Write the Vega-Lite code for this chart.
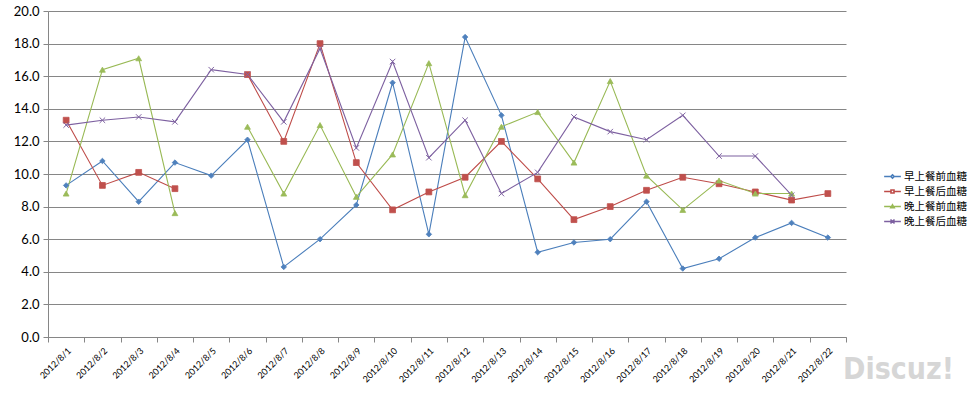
{
  "$schema": "https://vega.github.io/schema/vega-lite/v6.json",
  "autosize": "none",
  "width": 798,
  "height": 326,
  "padding": {"left": 48, "top": 11, "right": 125, "bottom": 56},
  "background": "white",
  "config": {
    "view": {"stroke": null},
    "font": "Lato",
    "legend": {
      "title": null,
      "orient": "none",
      "legendX": 835,
      "legendY": 156,
      "labelFont": "Noto Sans CJK SC",
      "labelFontSize": 10.5,
      "labelColor": "#000000",
      "symbolSize": 280,
      "symbolStrokeWidth": 1.6,
      "symbolOpacity": 1,
      "rowPadding": 0,
      "labelOffset": 2
    }
  },
  "title": {
    "text": "Discuz!",
    "orient": "bottom",
    "anchor": "end",
    "frame": "group",
    "font": "DejaVu Sans Condensed",
    "fontSize": 30,
    "fontWeight": "bold",
    "color": "#d6d6d6",
    "dx": 108,
    "offset": -29
  },
  "datasets": {
    "bg": [
      {"date": "2012/8/1", "series": "早上餐前血糖", "value": 9.3},
      {"date": "2012/8/2", "series": "早上餐前血糖", "value": 10.8},
      {"date": "2012/8/3", "series": "早上餐前血糖", "value": 8.3},
      {"date": "2012/8/4", "series": "早上餐前血糖", "value": 10.7},
      {"date": "2012/8/5", "series": "早上餐前血糖", "value": 9.9},
      {"date": "2012/8/6", "series": "早上餐前血糖", "value": 12.1},
      {"date": "2012/8/7", "series": "早上餐前血糖", "value": 4.3},
      {"date": "2012/8/8", "series": "早上餐前血糖", "value": 6.0},
      {"date": "2012/8/9", "series": "早上餐前血糖", "value": 8.1},
      {"date": "2012/8/10", "series": "早上餐前血糖", "value": 15.6},
      {"date": "2012/8/11", "series": "早上餐前血糖", "value": 6.3},
      {"date": "2012/8/12", "series": "早上餐前血糖", "value": 18.4},
      {"date": "2012/8/13", "series": "早上餐前血糖", "value": 13.6},
      {"date": "2012/8/14", "series": "早上餐前血糖", "value": 5.2},
      {"date": "2012/8/15", "series": "早上餐前血糖", "value": 5.8},
      {"date": "2012/8/16", "series": "早上餐前血糖", "value": 6.0},
      {"date": "2012/8/17", "series": "早上餐前血糖", "value": 8.3},
      {"date": "2012/8/18", "series": "早上餐前血糖", "value": 4.2},
      {"date": "2012/8/19", "series": "早上餐前血糖", "value": 4.8},
      {"date": "2012/8/20", "series": "早上餐前血糖", "value": 6.1},
      {"date": "2012/8/21", "series": "早上餐前血糖", "value": 7.0},
      {"date": "2012/8/22", "series": "早上餐前血糖", "value": 6.1},

      {"date": "2012/8/1", "series": "早上餐后血糖", "value": 13.3},
      {"date": "2012/8/2", "series": "早上餐后血糖", "value": 9.3},
      {"date": "2012/8/3", "series": "早上餐后血糖", "value": 10.1},
      {"date": "2012/8/4", "series": "早上餐后血糖", "value": 9.1},
      {"date": "2012/8/5", "series": "早上餐后血糖", "value": null},
      {"date": "2012/8/6", "series": "早上餐后血糖", "value": 16.1},
      {"date": "2012/8/7", "series": "早上餐后血糖", "value": 12.0},
      {"date": "2012/8/8", "series": "早上餐后血糖", "value": 18.0},
      {"date": "2012/8/9", "series": "早上餐后血糖", "value": 10.7},
      {"date": "2012/8/10", "series": "早上餐后血糖", "value": 7.8},
      {"date": "2012/8/11", "series": "早上餐后血糖", "value": 8.9},
      {"date": "2012/8/12", "series": "早上餐后血糖", "value": 9.8},
      {"date": "2012/8/13", "series": "早上餐后血糖", "value": 12.0},
      {"date": "2012/8/14", "series": "早上餐后血糖", "value": 9.7},
      {"date": "2012/8/15", "series": "早上餐后血糖", "value": 7.2},
      {"date": "2012/8/16", "series": "早上餐后血糖", "value": 8.0},
      {"date": "2012/8/17", "series": "早上餐后血糖", "value": 9.0},
      {"date": "2012/8/18", "series": "早上餐后血糖", "value": 9.8},
      {"date": "2012/8/19", "series": "早上餐后血糖", "value": 9.4},
      {"date": "2012/8/20", "series": "早上餐后血糖", "value": 8.9},
      {"date": "2012/8/21", "series": "早上餐后血糖", "value": 8.4},
      {"date": "2012/8/22", "series": "早上餐后血糖", "value": 8.8},

      {"date": "2012/8/1", "series": "晚上餐前血糖", "value": 8.8},
      {"date": "2012/8/2", "series": "晚上餐前血糖", "value": 16.4},
      {"date": "2012/8/3", "series": "晚上餐前血糖", "value": 17.1},
      {"date": "2012/8/4", "series": "晚上餐前血糖", "value": 7.6},
      {"date": "2012/8/5", "series": "晚上餐前血糖", "value": null},
      {"date": "2012/8/6", "series": "晚上餐前血糖", "value": 12.9},
      {"date": "2012/8/7", "series": "晚上餐前血糖", "value": 8.8},
      {"date": "2012/8/8", "series": "晚上餐前血糖", "value": 13.0},
      {"date": "2012/8/9", "series": "晚上餐前血糖", "value": 8.6},
      {"date": "2012/8/10", "series": "晚上餐前血糖", "value": 11.2},
      {"date": "2012/8/11", "series": "晚上餐前血糖", "value": 16.8},
      {"date": "2012/8/12", "series": "晚上餐前血糖", "value": 8.7},
      {"date": "2012/8/13", "series": "晚上餐前血糖", "value": 12.9},
      {"date": "2012/8/14", "series": "晚上餐前血糖", "value": 13.8},
      {"date": "2012/8/15", "series": "晚上餐前血糖", "value": 10.7},
      {"date": "2012/8/16", "series": "晚上餐前血糖", "value": 15.7},
      {"date": "2012/8/17", "series": "晚上餐前血糖", "value": 9.9},
      {"date": "2012/8/18", "series": "晚上餐前血糖", "value": 7.8},
      {"date": "2012/8/19", "series": "晚上餐前血糖", "value": 9.6},
      {"date": "2012/8/20", "series": "晚上餐前血糖", "value": 8.8},
      {"date": "2012/8/21", "series": "晚上餐前血糖", "value": 8.8},
      {"date": "2012/8/22", "series": "晚上餐前血糖", "value": null},

      {"date": "2012/8/1", "series": "晚上餐后血糖", "value": 13.0},
      {"date": "2012/8/2", "series": "晚上餐后血糖", "value": 13.3},
      {"date": "2012/8/3", "series": "晚上餐后血糖", "value": 13.5},
      {"date": "2012/8/4", "series": "晚上餐后血糖", "value": 13.2},
      {"date": "2012/8/5", "series": "晚上餐后血糖", "value": 16.4},
      {"date": "2012/8/6", "series": "晚上餐后血糖", "value": 16.1},
      {"date": "2012/8/7", "series": "晚上餐后血糖", "value": 13.2},
      {"date": "2012/8/8", "series": "晚上餐后血糖", "value": 17.7},
      {"date": "2012/8/9", "series": "晚上餐后血糖", "value": 11.6},
      {"date": "2012/8/10", "series": "晚上餐后血糖", "value": 16.9},
      {"date": "2012/8/11", "series": "晚上餐后血糖", "value": 11.0},
      {"date": "2012/8/12", "series": "晚上餐后血糖", "value": 13.3},
      {"date": "2012/8/13", "series": "晚上餐后血糖", "value": 8.8},
      {"date": "2012/8/14", "series": "晚上餐后血糖", "value": 10.1},
      {"date": "2012/8/15", "series": "晚上餐后血糖", "value": 13.5},
      {"date": "2012/8/16", "series": "晚上餐后血糖", "value": 12.6},
      {"date": "2012/8/17", "series": "晚上餐后血糖", "value": 12.1},
      {"date": "2012/8/18", "series": "晚上餐后血糖", "value": 13.6},
      {"date": "2012/8/19", "series": "晚上餐后血糖", "value": 11.1},
      {"date": "2012/8/20", "series": "晚上餐后血糖", "value": 11.1},
      {"date": "2012/8/21", "series": "晚上餐后血糖", "value": 8.7},
      {"date": "2012/8/22", "series": "晚上餐后血糖", "value": null}
    ]
  },
  "data": {"name": "bg"},
  "encoding": {
    "x": {
      "field": "date",
      "type": "ordinal",
      "sort": null,
      "scale": {"paddingInner": 0, "paddingOuter": 0},
      "axis": {
        "title": null,
        "labelAngle": -45,
        "labelFontSize": 9,
        "labelColor": "#000000",
        "labelAlign": "right",
        "labelBaseline": "top",
        "labelPadding": 4,
        "domainColor": "#868686",
        "tickColor": "#868686",
        "tickBand": "extent",
        "tickSize": 5,
        "grid": false
      }
    },
    "y": {
      "field": "value",
      "type": "quantitative",
      "scale": {"domain": [0, 20], "nice": false},
      "axis": {
        "title": null,
        "values": [0, 2, 4, 6, 8, 10, 12, 14, 16, 18, 20],
        "format": ".1f",
        "labelFontSize": 13,
        "labelColor": "#000000",
        "labelPadding": 4,
        "domainColor": "#868686",
        "tickColor": "#868686",
        "tickSize": 5,
        "grid": true,
        "gridColor": "#868686",
        "gridWidth": 1
      }
    }
  },
  "layer": [
    {
      "mark": {"type": "line", "strokeWidth": 1.1, "invalid": "break-paths-show-domains"},
      "encoding": {
        "color": {
          "field": "series",
          "type": "nominal",
          "sort": null,
          "scale": {
            "domain": ["早上餐前血糖", "早上餐后血糖", "晚上餐前血糖", "晚上餐后血糖"],
            "range": ["#4A7EBB", "#BE4B48", "#98B954", "#7D60A0"]
          }
        }
      }
    },
    {
      "transform": [{"filter": "datum.series === '早上餐前血糖'"}],
      "mark": {"type": "point", "shape": "diamond", "filled": true, "opacity": 1, "size": 30, "color": "#4F81BD", "stroke": "#4F81BD", "strokeWidth": 0.8}
    },
    {
      "transform": [{"filter": "datum.series === '早上餐后血糖'"}],
      "mark": {"type": "point", "shape": "square", "filled": true, "opacity": 1, "size": 34, "color": "#C0504D", "stroke": "#C0504D", "strokeWidth": 0.8}
    },
    {
      "transform": [{"filter": "datum.series === '晚上餐前血糖'"}],
      "mark": {"type": "point", "shape": "triangle-up", "filled": true, "opacity": 1, "size": 34, "color": "#9BBB59", "stroke": "#9BBB59", "strokeWidth": 0.8}
    },
    {
      "transform": [{"filter": "datum.series === '晚上餐后血糖'"}],
      "mark": {"type": "point", "shape": "M-1,-1L1,1M-1,1L1,-1", "filled": false, "opacity": 1, "size": 30, "color": "#8064A2", "strokeWidth": 1}
    },
    {
      "transform": [{"filter": "false"}],
      "mark": {"type": "point", "filled": false, "opacity": 1, "strokeWidth": 1.6},
      "encoding": {
        "color": {
          "field": "series",
          "type": "nominal",
          "sort": null
        },
        "shape": {
          "field": "series",
          "type": "nominal",
          "sort": null,
          "scale": {
            "domain": ["早上餐前血糖", "早上餐后血糖", "晚上餐前血糖", "晚上餐后血糖"],
            "range": [
              "M-1,0L-0.2,0M0.2,0L1,0M0,-0.2L0.2,0L0,0.2L-0.2,0Z",
              "M-1,0L-0.18,0M0.18,0L1,0M-0.18,-0.18L0.18,-0.18L0.18,0.18L-0.18,0.18Z",
              "M-1,0L-0.2,0M0.2,0L1,0M0,-0.2L0.2,0.14L-0.2,0.14Z",
              "M-1,0L1,0M-0.24,-0.24L0.24,0.24M-0.24,0.24L0.24,-0.24"
            ]
          }
        }
      }
    }
  ]
}
